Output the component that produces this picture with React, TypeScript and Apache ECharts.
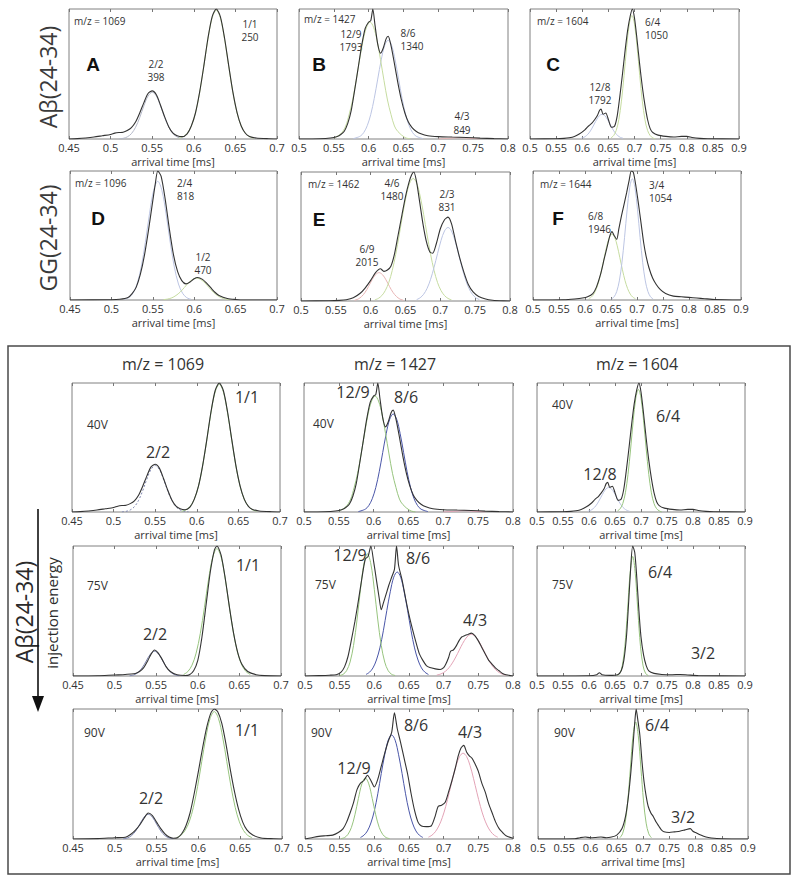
import React, { useEffect, useRef } from "react";
import * as echarts from "echarts";

type P = [number, number][];

// ---------- m/z 1069, A and 40V ----------
const A_meas: P = [[0.45,0],[0.46,0.003],[0.47,0.008],[0.48,0.015],[0.49,0.025],[0.5,0.035],[0.505,0.045],[0.51,0.05],[0.515,0.052],[0.52,0.065],[0.525,0.087],[0.53,0.13],[0.535,0.2],[0.54,0.28],[0.545,0.35],[0.55,0.37],[0.555,0.34],[0.56,0.26],[0.565,0.17],[0.57,0.093],[0.575,0.045],[0.58,0.025],[0.586,0.018],[0.592,0.04],[0.597,0.1],[0.602,0.2],[0.607,0.36],[0.612,0.56],[0.617,0.775],[0.622,0.94],[0.627,1.0],[0.632,0.94],[0.637,0.775],[0.642,0.563],[0.647,0.36],[0.652,0.203],[0.657,0.1],[0.662,0.044],[0.667,0.02],[0.675,0.008],[0.69,0.002],[0.7,0]];
const A_fit11: P = [[0.582,0.006],[0.587,0.017],[0.592,0.044],[0.597,0.099],[0.602,0.2],[0.607,0.356],[0.612,0.557],[0.617,0.767],[0.622,0.929],[0.627,0.99],[0.632,0.929],[0.637,0.767],[0.642,0.557],[0.647,0.356],[0.652,0.2],[0.657,0.099],[0.662,0.044],[0.667,0.017],[0.672,0.006]];
const A_fit22: P = [[0.51,0.001],[0.515,0.005],[0.52,0.016],[0.525,0.041],[0.53,0.09],[0.535,0.165],[0.54,0.255],[0.545,0.33],[0.55,0.36],[0.555,0.33],[0.56,0.255],[0.565,0.165],[0.57,0.09],[0.575,0.041],[0.58,0.016],[0.585,0.005],[0.59,0.001]];

// ---------- m/z 1427, B and 40V ----------
const B_meas: P = [[0.5,0],[0.53,0.002],[0.545,0.008],[0.555,0.02],[0.56,0.035],[0.565,0.06],[0.57,0.12],[0.575,0.22],[0.58,0.38],[0.585,0.55],[0.59,0.72],[0.595,0.85],[0.6,0.9],[0.603,0.91],[0.606,1.0],[0.609,0.88],[0.613,0.73],[0.617,0.66],[0.621,0.7],[0.625,0.77],[0.628,0.79],[0.632,0.72],[0.637,0.58],[0.642,0.43],[0.647,0.3],[0.652,0.2],[0.657,0.13],[0.662,0.09],[0.668,0.06],[0.675,0.04],[0.685,0.025],[0.7,0.018],[0.72,0.015],[0.74,0.012],[0.76,0.007],[0.78,0.003],[0.8,0]];
const B_fit129: P = [[0.55,0.008],[0.56,0.04],[0.567,0.1],[0.572,0.19],[0.577,0.3],[0.582,0.45],[0.587,0.61],[0.592,0.76],[0.597,0.86],[0.602,0.9],[0.607,0.86],[0.612,0.76],[0.617,0.61],[0.622,0.45],[0.627,0.3],[0.632,0.19],[0.637,0.1],[0.642,0.057],[0.652,0.012],[0.66,0]];
const B_fit86: P = [[0.578,0.003],[0.588,0.022],[0.593,0.05],[0.598,0.103],[0.603,0.189],[0.608,0.312],[0.613,0.461],[0.618,0.608],[0.623,0.719],[0.628,0.76],[0.633,0.719],[0.638,0.608],[0.643,0.461],[0.648,0.312],[0.653,0.189],[0.658,0.103],[0.663,0.05],[0.668,0.022],[0.678,0.003]];
const B_fit43: P = [[0.7,0],[0.715,0.005],[0.73,0.011],[0.745,0.005],[0.76,0]];

// ---------- m/z 1604, C and 40V ----------
const C_meas: P = [[0.5,0],[0.55,0.002],[0.565,0.005],[0.575,0.01],[0.585,0.02],[0.595,0.04],[0.605,0.07],[0.612,0.1],[0.618,0.12],[0.624,0.15],[0.629,0.18],[0.633,0.22],[0.636,0.23],[0.64,0.19],[0.645,0.2],[0.65,0.15],[0.656,0.09],[0.662,0.1],[0.667,0.18],[0.672,0.33],[0.677,0.5],[0.682,0.68],[0.687,0.84],[0.692,0.95],[0.696,1.0],[0.7,0.93],[0.705,0.76],[0.71,0.57],[0.715,0.4],[0.72,0.26],[0.725,0.15],[0.73,0.08],[0.735,0.05],[0.745,0.03],[0.76,0.02],[0.775,0.015],[0.79,0.02],[0.8,0.02],[0.81,0.012],[0.825,0.005],[0.84,0.002],[0.9,0]];
const C_fit64: P = [[0.655,0.009],[0.66,0.026],[0.665,0.066],[0.67,0.149],[0.675,0.291],[0.68,0.488],[0.685,0.707],[0.69,0.883],[0.695,0.95],[0.7,0.883],[0.705,0.707],[0.71,0.488],[0.715,0.291],[0.72,0.149],[0.725,0.066],[0.73,0.026],[0.735,0.009],[0.74,0]];
const C_fit128: P = [[0.598,0.006],[0.603,0.0125],[0.608,0.026],[0.613,0.047],[0.618,0.078],[0.623,0.115],[0.628,0.152],[0.633,0.18],[0.638,0.19],[0.643,0.18],[0.648,0.152],[0.653,0.115],[0.658,0.078],[0.663,0.047],[0.668,0.026],[0.673,0.0125],[0.678,0.006]];

// ---------- D: GG m/z 1096 ----------
const D_meas: P = [[0.45,0],[0.5,0.002],[0.51,0.006],[0.52,0.02],[0.525,0.05],[0.53,0.1],[0.535,0.2],[0.54,0.35],[0.545,0.55],[0.55,0.77],[0.553,0.9],[0.556,1.0],[0.56,0.96],[0.565,0.78],[0.57,0.55],[0.575,0.35],[0.58,0.22],[0.585,0.15],[0.59,0.125],[0.595,0.14],[0.6,0.165],[0.604,0.175],[0.61,0.16],[0.615,0.13],[0.62,0.095],[0.625,0.06],[0.63,0.035],[0.64,0.012],[0.65,0.004],[0.66,0],[0.7,0]];
const D_fit24: P = [[0.516,0.006],[0.521,0.018],[0.526,0.052],[0.531,0.124],[0.536,0.256],[0.541,0.448],[0.546,0.668],[0.551,0.849],[0.556,0.92],[0.561,0.849],[0.566,0.668],[0.571,0.448],[0.576,0.256],[0.581,0.124],[0.586,0.052],[0.591,0.018],[0.596,0.006]];
const D_fit12: P = [[0.563,0.003],[0.568,0.0075],[0.573,0.017],[0.578,0.035],[0.583,0.061],[0.588,0.096],[0.593,0.132],[0.598,0.159],[0.603,0.17],[0.608,0.159],[0.613,0.132],[0.618,0.096],[0.623,0.061],[0.628,0.035],[0.633,0.017],[0.638,0.0075],[0.643,0.003]];

// ---------- E: GG m/z 1462 ----------
const E_meas: P = [[0.5,0],[0.54,0.002],[0.555,0.005],[0.565,0.01],[0.575,0.025],[0.585,0.06],[0.592,0.1],[0.6,0.16],[0.607,0.22],[0.614,0.25],[0.619,0.23],[0.624,0.24],[0.629,0.27],[0.634,0.36],[0.639,0.5],[0.645,0.67],[0.65,0.81],[0.655,0.92],[0.659,0.98],[0.662,1.0],[0.666,0.92],[0.67,0.78],[0.675,0.6],[0.68,0.46],[0.685,0.38],[0.689,0.37],[0.694,0.44],[0.7,0.56],[0.706,0.63],[0.711,0.65],[0.716,0.6],[0.722,0.46],[0.728,0.33],[0.734,0.22],[0.74,0.13],[0.747,0.07],[0.755,0.035],[0.765,0.015],[0.775,0.006],[0.79,0.001],[0.8,0]];
const E_fit69: P = [[0.577,0.006],[0.582,0.015],[0.587,0.035],[0.592,0.067],[0.597,0.113],[0.602,0.164],[0.607,0.204],[0.612,0.22],[0.617,0.204],[0.622,0.164],[0.627,0.113],[0.632,0.067],[0.637,0.035],[0.642,0.015],[0.647,0.006]];
const E_fit46: P = [[0.606,0.009],[0.611,0.02],[0.616,0.042],[0.621,0.081],[0.626,0.143],[0.631,0.237],[0.636,0.362],[0.641,0.512],[0.646,0.672],[0.651,0.814],[0.656,0.914],[0.661,0.95],[0.666,0.914],[0.671,0.814],[0.676,0.672],[0.681,0.512],[0.686,0.362],[0.691,0.237],[0.696,0.143],[0.701,0.081],[0.706,0.042],[0.711,0.02],[0.716,0.009]];
const E_fit23: P = [[0.666,0.011],[0.671,0.025],[0.676,0.052],[0.681,0.098],[0.686,0.168],[0.691,0.261],[0.696,0.367],[0.701,0.469],[0.706,0.543],[0.711,0.57],[0.716,0.543],[0.721,0.469],[0.726,0.367],[0.731,0.261],[0.736,0.168],[0.741,0.098],[0.746,0.052],[0.751,0.025],[0.756,0.011]];

// ---------- F: GG m/z 1644 ----------
const F_meas: P = [[0.5,0],[0.56,0.002],[0.58,0.008],[0.595,0.015],[0.605,0.025],[0.615,0.05],[0.622,0.1],[0.63,0.2],[0.637,0.32],[0.643,0.42],[0.648,0.5],[0.652,0.53],[0.656,0.5],[0.661,0.47],[0.665,0.55],[0.67,0.65],[0.675,0.74],[0.68,0.83],[0.685,0.93],[0.689,1.0],[0.693,0.99],[0.698,0.88],[0.703,0.74],[0.708,0.59],[0.713,0.44],[0.718,0.33],[0.723,0.25],[0.73,0.17],[0.737,0.12],[0.745,0.08],[0.755,0.05],[0.77,0.03],[0.785,0.025],[0.8,0.02],[0.815,0.015],[0.83,0.01],[0.85,0.004],[0.9,0]];
const F_fit68: P = [[0.607,0.01],[0.612,0.022],[0.617,0.046],[0.622,0.088],[0.627,0.15],[0.632,0.234],[0.637,0.328],[0.642,0.42],[0.647,0.486],[0.652,0.51],[0.657,0.486],[0.662,0.42],[0.667,0.328],[0.672,0.234],[0.677,0.15],[0.682,0.088],[0.687,0.046],[0.692,0.022],[0.697,0.01]];
const F_fit34: P = [[0.651,0.008],[0.656,0.025],[0.661,0.066],[0.666,0.148],[0.671,0.288],[0.676,0.483],[0.681,0.699],[0.686,0.873],[0.691,0.94],[0.696,0.873],[0.701,0.699],[0.706,0.483],[0.711,0.288],[0.716,0.148],[0.721,0.066],[0.726,0.025],[0.731,0.008]];

// ---------- 75V ----------
const V75_1069_meas: P = [[0.45,0],[0.48,0.002],[0.5,0.008],[0.51,0.01],[0.52,0.015],[0.525,0.02],[0.53,0.035],[0.535,0.065],[0.54,0.12],[0.544,0.17],[0.548,0.2],[0.552,0.18],[0.557,0.13],[0.562,0.07],[0.567,0.035],[0.575,0.01],[0.585,0.004],[0.59,0.01],[0.595,0.04],[0.6,0.12],[0.605,0.3],[0.61,0.55],[0.615,0.8],[0.62,0.97],[0.623,1.0],[0.628,0.93],[0.633,0.75],[0.638,0.53],[0.643,0.33],[0.648,0.18],[0.653,0.09],[0.66,0.035],[0.67,0.01],[0.68,0.003],[0.7,0]];
const V75_1069_fit11: P = [[0.583,0.012],[0.588,0.034],[0.593,0.083],[0.598,0.176],[0.603,0.327],[0.608,0.528],[0.613,0.745],[0.618,0.915],[0.623,0.98],[0.628,0.915],[0.633,0.745],[0.638,0.528],[0.643,0.327],[0.648,0.176],[0.653,0.083],[0.658,0.034],[0.663,0.012]];
const V75_1069_fit22: P = [[0.518,0.002],[0.523,0.008],[0.528,0.026],[0.533,0.062],[0.538,0.115],[0.543,0.168],[0.548,0.19],[0.553,0.168],[0.558,0.115],[0.563,0.062],[0.568,0.026],[0.573,0.008],[0.578,0.002]];

const V75_1427_meas: P = [[0.5,0],[0.52,0.003],[0.535,0.006],[0.545,0.01],[0.552,0.03],[0.557,0.07],[0.562,0.15],[0.567,0.28],[0.572,0.42],[0.577,0.58],[0.582,0.75],[0.587,0.9],[0.591,0.92],[0.595,1.0],[0.599,0.88],[0.603,0.74],[0.607,0.6],[0.61,0.51],[0.613,0.56],[0.617,0.63],[0.621,0.7],[0.625,0.76],[0.629,0.82],[0.632,1.0],[0.635,0.85],[0.64,0.74],[0.645,0.6],[0.65,0.47],[0.655,0.36],[0.66,0.26],[0.665,0.17],[0.67,0.12],[0.675,0.08],[0.68,0.065],[0.688,0.055],[0.695,0.05],[0.7,0.065],[0.703,0.09],[0.707,0.14],[0.71,0.19],[0.714,0.2],[0.718,0.23],[0.722,0.27],[0.726,0.3],[0.73,0.31],[0.735,0.32],[0.74,0.33],[0.745,0.31],[0.75,0.27],[0.755,0.22],[0.76,0.17],[0.765,0.12],[0.77,0.09],[0.775,0.06],[0.78,0.04],[0.785,0.02],[0.79,0.01],[0.8,0]];
const V75_1427_fit129: P = [[0.55,0.004],[0.555,0.013],[0.56,0.041],[0.565,0.107],[0.57,0.235],[0.575,0.431],[0.58,0.665],[0.585,0.862],[0.59,0.94],[0.595,0.862],[0.6,0.665],[0.605,0.431],[0.61,0.235],[0.615,0.107],[0.62,0.041],[0.625,0.013],[0.63,0.004]];
const V75_1427_fit86: P = [[0.588,0.012],[0.593,0.029],[0.598,0.062],[0.603,0.123],[0.608,0.216],[0.613,0.348],[0.618,0.504],[0.623,0.648],[0.628,0.76],[0.633,0.8],[0.638,0.76],[0.643,0.648],[0.648,0.504],[0.653,0.348],[0.658,0.216],[0.663,0.123],[0.668,0.062],[0.673,0.029],[0.678,0.012]];
const V75_1427_fit43: P = [[0.69,0.007],[0.695,0.014],[0.7,0.027],[0.705,0.048],[0.71,0.08],[0.715,0.122],[0.72,0.172],[0.725,0.226],[0.73,0.274],[0.735,0.308],[0.74,0.32],[0.745,0.308],[0.75,0.274],[0.755,0.226],[0.76,0.172],[0.765,0.122],[0.77,0.08],[0.775,0.048],[0.78,0.027],[0.785,0.014],[0.79,0.007]];

const V75_1604_meas: P = [[0.5,0],[0.6,0.002],[0.615,0.01],[0.62,0.025],[0.625,0.01],[0.64,0.005],[0.655,0.01],[0.662,0.04],[0.667,0.12],[0.672,0.3],[0.676,0.55],[0.68,0.82],[0.684,1.0],[0.688,0.95],[0.692,0.75],[0.696,0.5],[0.7,0.3],[0.705,0.16],[0.71,0.08],[0.715,0.04],[0.725,0.02],[0.74,0.012],[0.76,0.01],[0.775,0.012],[0.79,0.008],[0.81,0.003],[0.9,0]];
const V75_1604_fit64: P = [[0.654,0.004],[0.659,0.019],[0.664,0.078],[0.669,0.229],[0.674,0.496],[0.679,0.788],[0.684,0.92],[0.689,0.788],[0.694,0.496],[0.699,0.229],[0.704,0.078],[0.709,0.019],[0.714,0.004]];

// ---------- 90V ----------
const V90_1069_meas: P = [[0.45,0],[0.48,0.003],[0.5,0.01],[0.51,0.012],[0.515,0.02],[0.52,0.04],[0.525,0.07],[0.53,0.11],[0.535,0.16],[0.54,0.2],[0.545,0.18],[0.55,0.13],[0.555,0.08],[0.56,0.04],[0.565,0.015],[0.57,0.006],[0.575,0.01],[0.58,0.04],[0.585,0.1],[0.59,0.2],[0.595,0.35],[0.6,0.52],[0.605,0.7],[0.61,0.86],[0.615,0.97],[0.619,1.0],[0.623,0.98],[0.628,0.89],[0.633,0.73],[0.638,0.54],[0.643,0.37],[0.648,0.23],[0.653,0.13],[0.658,0.07],[0.665,0.03],[0.675,0.008],[0.69,0.002],[0.7,0]];
const V90_1069_fit11: P = [[0.574,0.011],[0.579,0.028],[0.584,0.065],[0.589,0.132],[0.594,0.244],[0.599,0.403],[0.604,0.595],[0.609,0.784],[0.614,0.927],[0.619,0.98],[0.624,0.927],[0.629,0.784],[0.634,0.595],[0.639,0.403],[0.644,0.244],[0.649,0.132],[0.654,0.065],[0.659,0.028],[0.664,0.011]];
const V90_1069_fit22: P = [[0.51,0.002],[0.515,0.008],[0.52,0.026],[0.525,0.062],[0.53,0.115],[0.535,0.168],[0.54,0.19],[0.545,0.168],[0.55,0.115],[0.555,0.062],[0.56,0.026],[0.565,0.008],[0.57,0.002]];

const V90_1427_meas: P = [[0.5,0],[0.51,0.01],[0.52,0.02],[0.53,0.025],[0.54,0.03],[0.548,0.05],[0.555,0.08],[0.56,0.13],[0.565,0.2],[0.57,0.28],[0.575,0.38],[0.58,0.43],[0.585,0.45],[0.59,0.49],[0.595,0.45],[0.6,0.4],[0.605,0.46],[0.61,0.56],[0.615,0.66],[0.62,0.75],[0.625,0.82],[0.629,0.97],[0.633,0.85],[0.638,0.74],[0.643,0.62],[0.648,0.5],[0.653,0.35],[0.658,0.22],[0.663,0.13],[0.668,0.1],[0.675,0.095],[0.682,0.1],[0.688,0.18],[0.692,0.25],[0.697,0.26],[0.702,0.28],[0.707,0.36],[0.712,0.45],[0.717,0.55],[0.721,0.64],[0.725,0.7],[0.729,0.72],[0.733,0.67],[0.737,0.64],[0.741,0.62],[0.745,0.58],[0.75,0.52],[0.755,0.43],[0.76,0.36],[0.765,0.27],[0.77,0.2],[0.775,0.13],[0.78,0.08],[0.785,0.05],[0.79,0.025],[0.8,0.005]];
const V90_1427_fit129: P = [[0.552,0.003],[0.557,0.011],[0.562,0.036],[0.567,0.09],[0.572,0.186],[0.577,0.311],[0.582,0.424],[0.587,0.47],[0.592,0.424],[0.597,0.311],[0.602,0.186],[0.607,0.09],[0.612,0.036],[0.617,0.011],[0.622,0.003]];
const V90_1427_fit86: P = [[0.58,0.012],[0.585,0.029],[0.59,0.062],[0.595,0.123],[0.6,0.216],[0.605,0.348],[0.61,0.504],[0.615,0.648],[0.62,0.76],[0.625,0.8],[0.63,0.76],[0.635,0.648],[0.64,0.504],[0.645,0.348],[0.65,0.216],[0.655,0.123],[0.66,0.062],[0.665,0.029],[0.67,0.012]];
const V90_1427_fit43: P = [[0.678,0.014],[0.683,0.029],[0.688,0.056],[0.693,0.1],[0.698,0.164],[0.703,0.251],[0.708,0.356],[0.713,0.467],[0.718,0.566],[0.723,0.635],[0.728,0.66],[0.733,0.635],[0.738,0.566],[0.743,0.467],[0.748,0.356],[0.753,0.251],[0.758,0.164],[0.763,0.1],[0.768,0.056],[0.773,0.029],[0.778,0.014]];

const V90_1604_meas: P = [[0.5,0],[0.57,0.002],[0.58,0.01],[0.59,0.015],[0.6,0.01],[0.61,0.012],[0.62,0.015],[0.63,0.01],[0.64,0.015],[0.65,0.03],[0.66,0.08],[0.667,0.18],[0.672,0.32],[0.677,0.52],[0.681,0.72],[0.684,0.88],[0.687,1.0],[0.69,0.92],[0.694,0.8],[0.698,0.6],[0.702,0.44],[0.706,0.33],[0.71,0.25],[0.715,0.2],[0.72,0.17],[0.725,0.13],[0.73,0.1],[0.735,0.07],[0.74,0.055],[0.75,0.05],[0.76,0.055],[0.77,0.06],[0.78,0.07],[0.79,0.08],[0.795,0.06],[0.8,0.05],[0.81,0.03],[0.82,0.015],[0.83,0.008],[0.85,0.002],[0.9,0]];
const V90_1604_fit64: P = [[0.656,0.01],[0.661,0.04],[0.666,0.122],[0.671,0.293],[0.676,0.546],[0.681,0.794],[0.686,0.9],[0.691,0.794],[0.696,0.546],[0.701,0.293],[0.706,0.122],[0.711,0.04],[0.716,0.01]];

// ---------- text ----------
const xAxisTitle = "arrival time [ms]";
const colTitles = ["m/z = 1069", "m/z = 1427", "m/z = 1604"];
const voltages = ["40V", "75V", "90V"];

const FONT = "'Open Sans', 'Noto Sans', sans-serif";
const DARK = "#333333";
const TG = "#c6dca0", TB = "#bcc5e3", TR = "#e8b5b5", TGR = "#b4b8c8";
const BG = "#97c47e", BB = "#4a56a8", BR = "#e3a3b6", BD = "#7e85b0";

interface Curve { data: P; color: string; width?: number; dash?: boolean; smooth?: number }
interface Panel { left: number; top: number; width: number; height: number; min: number; max: number; curves: Curve[] }

const meas = (d: P): Curve => ({ data: d, color: DARK, width: 1.1, smooth: 0.25 });
const fit = (d: P, c: string, dash = false): Curve => ({ data: d, color: c, width: 1, dash, smooth: 0.35 });

const panels: Panel[] = [
  { left: 69, top: 9, width: 208, height: 130, min: 0.45, max: 0.7, curves: [fit(A_fit22, TGR), fit(A_fit11, TG), meas(A_meas)] },
  { left: 299, top: 9, width: 209, height: 130, min: 0.5, max: 0.8, curves: [fit(B_fit43, TR), fit(B_fit86, TB), fit(B_fit129, TG), meas(B_meas)] },
  { left: 530, top: 9, width: 209, height: 130, min: 0.5, max: 0.9, curves: [fit(C_fit128, TB), fit(C_fit64, TG), meas(C_meas)] },
  { left: 70, top: 171, width: 207, height: 129, min: 0.45, max: 0.7, curves: [fit(D_fit24, TB), fit(D_fit12, TG), meas(D_meas)] },
  { left: 301, top: 172, width: 209, height: 129, min: 0.5, max: 0.8, curves: [fit(E_fit69, TR), fit(E_fit46, TG), fit(E_fit23, TB), meas(E_meas)] },
  { left: 533, top: 171, width: 208, height: 129, min: 0.5, max: 0.9, curves: [fit(F_fit68, TG), fit(F_fit34, TB), meas(F_meas)] },
  // 40V
  { left: 72, top: 383, width: 208, height: 129, min: 0.45, max: 0.7, curves: [fit(A_fit22, BD, true), fit(A_fit11, BG), meas(A_meas)] },
  { left: 304, top: 383, width: 209, height: 129, min: 0.5, max: 0.8, curves: [fit(B_fit43, BR), fit(B_fit86, BB), fit(B_fit129, BG), meas(B_meas)] },
  { left: 537, top: 383, width: 208, height: 129, min: 0.5, max: 0.9, curves: [fit(C_fit128, TB), fit(C_fit64, BG), meas(C_meas)] },
  // 75V
  { left: 73, top: 546, width: 208, height: 130, min: 0.45, max: 0.7, curves: [fit(V75_1069_fit22, BD), fit(V75_1069_fit11, BG), meas(V75_1069_meas)] },
  { left: 305, top: 546, width: 208, height: 130, min: 0.5, max: 0.8, curves: [fit(V75_1427_fit43, BR), fit(V75_1427_fit86, BB), fit(V75_1427_fit129, BG), meas(V75_1427_meas)] },
  { left: 537, top: 546, width: 208, height: 130, min: 0.5, max: 0.9, curves: [fit(V75_1604_fit64, BG), meas(V75_1604_meas)] },
  // 90V
  { left: 73, top: 709, width: 209, height: 130, min: 0.45, max: 0.7, curves: [fit(V90_1069_fit22, BD), fit(V90_1069_fit11, BG), meas(V90_1069_meas)] },
  { left: 305, top: 709, width: 208, height: 130, min: 0.5, max: 0.8, curves: [fit(V90_1427_fit43, BR), fit(V90_1427_fit86, BB), fit(V90_1427_fit129, BG), meas(V90_1427_meas)] },
  { left: 538, top: 709, width: 210, height: 130, min: 0.5, max: 0.9, curves: [fit(V90_1604_fit64, BG), meas(V90_1604_meas)] },
];

function txt(text: string, x: number, y: number, size: number, align: string = "left", extra: any = {}) {
  return {
    type: "text", x, y, silent: true, ...extra,
    style: { text, fill: extra.fill || "#333", font: `${extra.weight || "normal"} ${size}px ${extra.family || FONT}`, align, verticalAlign: "middle" },
  };
}

function buildOption() {
  const grid: any[] = [], xAxis: any[] = [], yAxis: any[] = [], series: any[] = [];
  const tickStyle = { color: "#777", width: 1 };
  panels.forEach((p, i) => {
    grid.push({ left: p.left, top: p.top, width: p.width, height: p.height, show: true, borderColor: "#808080", borderWidth: 1, backgroundColor: "#ffffff" });
    xAxis.push({
      type: "value", gridIndex: i, min: p.min, max: p.max, interval: 0.05, position: "bottom",
      axisLine: { show: false }, splitLine: { show: false },
      axisTick: { inside: true, length: 3, lineStyle: tickStyle },
      axisLabel: { fontSize: 11, color: "#333", margin: 3, fontFamily: FONT, showMinLabel: true, showMaxLabel: true, formatter: (v: number) => String(+v.toFixed(2)) },
      name: xAxisTitle, nameLocation: "middle", nameGap: 17, nameTextStyle: { fontSize: 11, color: "#333", fontFamily: FONT },
    });
    xAxis.push({
      type: "value", gridIndex: i, min: p.min, max: p.max, interval: 0.05, position: "top",
      axisLine: { show: false }, splitLine: { show: false },
      axisTick: { inside: true, length: 3, lineStyle: tickStyle }, axisLabel: { show: false },
    });
    yAxis.push({ type: "value", gridIndex: i, min: 0, max: 1, show: false });
    p.curves.forEach((c) => {
      series.push({
        type: "line", xAxisIndex: 2 * i, yAxisIndex: i, data: c.data, showSymbol: false, symbol: "none",
        smooth: c.smooth ?? 0.3, silent: true, clip: true,
        lineStyle: { color: c.color, width: c.width ?? 1, type: c.dash ? [2, 2] : "solid" },
      });
    });
  });

  const g: any[] = [];
  // outer frame of the lower block
  g.push({ type: "rect", shape: { x: 8, y: 346, width: 782, height: 528 }, style: { fill: "none", stroke: "#4a4a4a", lineWidth: 1.5 }, silent: true });
  // row labels
  g.push(txt("Aβ(24-34)", 48, 77, 23, "center", { rotation: Math.PI / 2, fill: "#3a3a3a" }));
  g.push(txt("GG(24-34)", 48, 238, 23, "center", { rotation: Math.PI / 2, fill: "#3a3a3a" }));
  // panel letters
  const bold = { weight: "bold", family: "'Liberation Sans', Arial, sans-serif", fill: "#111" };
  g.push(txt("A", 93, 64, 19, "center", bold));
  g.push(txt("B", 319, 64, 19, "center", bold));
  g.push(txt("C", 553, 64, 19, "center", bold));
  g.push(txt("D", 98, 218, 19, "center", bold));
  g.push(txt("E", 319, 219, 19, "center", bold));
  g.push(txt("F", 558, 218, 19, "center", bold));
  // top annotations
  const s = 10;
  g.push(txt("m/z = 1069", 74, 21, s));
  g.push(txt("2/2", 156, 64, s, "center")); g.push(txt("398", 156, 77, s, "center"));
  g.push(txt("1/1", 250, 24, s, "center")); g.push(txt("250", 250, 37, s, "center"));
  g.push(txt("m/z = 1427", 304, 19, s));
  g.push(txt("12/9", 351, 34, s, "center")); g.push(txt("1793", 351, 47, s, "center"));
  g.push(txt("8/6", 408, 33, s, "center")); g.push(txt("1340", 412, 46, s, "center"));
  g.push(txt("4/3", 462, 116, s, "center")); g.push(txt("849", 462, 130, s, "center"));
  g.push(txt("m/z = 1604", 537, 21, s));
  g.push(txt("6/4", 645, 22, s)); g.push(txt("1050", 645, 35, s));
  g.push(txt("12/8", 600, 87, s, "center")); g.push(txt("1792", 600, 100, s, "center"));
  g.push(txt("m/z = 1096", 75, 183, s));
  g.push(txt("2/4", 177, 183, s)); g.push(txt("818", 177, 196, s));
  g.push(txt("1/2", 203, 257, s, "center")); g.push(txt("470", 203, 270, s, "center"));
  g.push(txt("m/z = 1462", 308, 184, s));
  g.push(txt("4/6", 392, 183, s, "center")); g.push(txt("1480", 392, 196, s, "center"));
  g.push(txt("2/3", 447, 194, s, "center")); g.push(txt("831", 447, 207, s, "center"));
  g.push(txt("6/9", 367, 249, s, "center")); g.push(txt("2015", 367, 262, s, "center"));
  g.push(txt("m/z = 1644", 540, 184, s));
  g.push(txt("3/4", 649, 185, s)); g.push(txt("1054", 649, 198, s));
  g.push(txt("6/8", 588, 216, s)); g.push(txt("1946", 588, 229, s));
  // lower block
  g.push(txt(colTitles[0], 163, 364, 16, "center"));
  g.push(txt(colTitles[1], 395, 364, 16, "center"));
  g.push(txt(colTitles[2], 637, 364, 16, "center"));
  g.push(txt("Aβ(24-34)", 24, 612, 23, "center", { rotation: Math.PI / 2, fill: "#2a2a2a" }));
  g.push(txt("injection energy", 52, 613, 15, "center", { rotation: Math.PI / 2, fill: "#2a2a2a" }));
  g.push({ type: "line", shape: { x1: 38, y1: 509, x2: 38, y2: 700 }, style: { stroke: "#111", lineWidth: 1.6 }, silent: true });
  g.push({ type: "polygon", shape: { points: [[32, 696], [44, 696], [38, 712]] }, style: { fill: "#111" }, silent: true });
  const L = 16;
  g.push(txt(voltages[0], 87, 424, 12)); g.push(txt(voltages[0], 313, 423, 12)); g.push(txt(voltages[0], 552, 404, 12));
  g.push(txt(voltages[1], 87, 585, 12)); g.push(txt(voltages[1], 315, 584, 12)); g.push(txt(voltages[1], 552, 584, 12));
  g.push(txt(voltages[2], 84, 732, 12)); g.push(txt(voltages[2], 311, 732, 12)); g.push(txt(voltages[2], 554, 732, 12));
  g.push(txt("2/2", 158, 452, L, "center")); g.push(txt("1/1", 247, 397, L, "center"));
  g.push(txt("12/9", 353, 392, L, "center")); g.push(txt("8/6", 406, 397, L, "center"));
  g.push(txt("6/4", 668, 416, L, "center")); g.push(txt("12/8", 600, 474, L, "center"));
  g.push(txt("2/2", 155, 634, L, "center")); g.push(txt("1/1", 248, 565, L, "center"));
  g.push(txt("12/9", 350, 555, L, "center")); g.push(txt("8/6", 418, 558, L, "center")); g.push(txt("4/3", 475, 620, L, "center"));
  g.push(txt("6/4", 660, 572, L, "center")); g.push(txt("3/2", 703, 653, L, "center"));
  g.push(txt("2/2", 151, 798, L, "center")); g.push(txt("1/1", 247, 730, L, "center"));
  g.push(txt("12/9", 354, 768, L, "center")); g.push(txt("8/6", 416, 725, L, "center")); g.push(txt("4/3", 470, 732, L, "center"));
  g.push(txt("6/4", 657, 725, L, "center")); g.push(txt("3/2", 683, 817, L, "center"));

  return { animation: false, backgroundColor: "#ffffff", grid, xAxis, yAxis, series, graphic: { elements: g } };
}

export default function App() {
  const ref = useRef<HTMLDivElement>(null);
  useEffect(() => {
    if (!ref.current) return;
    const chart = echarts.init(ref.current, undefined, { renderer: "svg" });
    chart.setOption(buildOption() as any);
    return () => chart.dispose();
  }, []);
  return <div ref={ref} style={{ position: "absolute", left: 0, top: 0, width: 800, height: 881 }} />;
}
